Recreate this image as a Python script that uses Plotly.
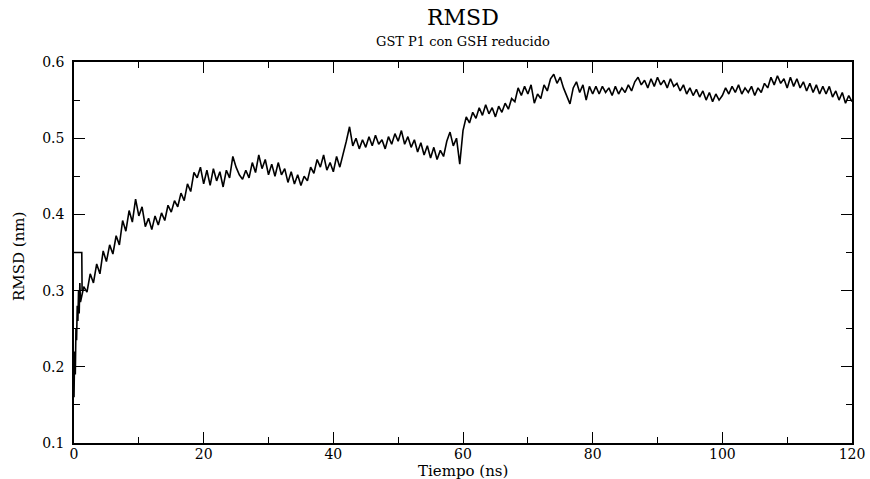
import plotly.graph_objects as go

# Initial plateau segment (separate stretch of the trace at 0.35 nm)
plateau_time = [0.0, 1.2, 1.25]
plateau_rmsd = [0.35, 0.35, 0.30]

# Start of the trajectory (fine sampling)
head_time = [0.0, 0.1, 0.2, 0.3, 0.4, 0.5, 0.6, 0.7, 0.8, 0.9]
head_rmsd = [0.16, 0.22, 0.19, 0.25, 0.235, 0.28, 0.26, 0.30, 0.27, 0.31]

step_ns = 0.5
start_ns = 1.0
rmsd_values = [
    0.285, 0.305, 0.298, 0.322, 0.310, 0.335, 0.322, 0.352, 0.338, 0.360,
    0.348, 0.372, 0.360, 0.392, 0.378, 0.405, 0.390, 0.420, 0.398, 0.410,
    0.384, 0.395, 0.380, 0.398, 0.386, 0.402, 0.392, 0.412, 0.403, 0.418,
    0.410, 0.428, 0.418, 0.440, 0.430, 0.455, 0.448, 0.462, 0.440, 0.458,
    0.438, 0.460, 0.444, 0.456, 0.436, 0.458, 0.448, 0.476, 0.462, 0.452,
    0.446, 0.458, 0.448, 0.468, 0.455, 0.478, 0.460, 0.472, 0.452, 0.466,
    0.450, 0.468, 0.452, 0.460, 0.442, 0.456, 0.440, 0.452, 0.438, 0.450,
    0.444, 0.462, 0.454, 0.472, 0.462, 0.478, 0.458, 0.468, 0.456, 0.476,
    0.462, 0.478, 0.496, 0.515, 0.490, 0.500, 0.486, 0.498, 0.488, 0.502,
    0.490, 0.504, 0.492, 0.498, 0.486, 0.502, 0.492, 0.506, 0.496, 0.510,
    0.492, 0.502, 0.488, 0.498, 0.482, 0.494, 0.478, 0.490, 0.474, 0.488,
    0.472, 0.484, 0.476, 0.496, 0.508, 0.490, 0.500, 0.466, 0.510, 0.528,
    0.520, 0.534, 0.526, 0.540, 0.530, 0.544, 0.532, 0.540, 0.528, 0.542,
    0.534, 0.546, 0.538, 0.552, 0.548, 0.566, 0.556, 0.568, 0.558, 0.570,
    0.546, 0.558, 0.552, 0.570, 0.562, 0.578, 0.584, 0.572, 0.580, 0.566,
    0.556, 0.545, 0.566, 0.574, 0.560, 0.570, 0.550, 0.568, 0.558, 0.568,
    0.558, 0.568, 0.560, 0.566, 0.556, 0.568, 0.558, 0.566, 0.560, 0.570,
    0.562, 0.574, 0.580, 0.570, 0.576, 0.566, 0.578, 0.568, 0.580, 0.570,
    0.576, 0.566, 0.578, 0.568, 0.572, 0.562, 0.570, 0.558, 0.566, 0.556,
    0.564, 0.554, 0.562, 0.550, 0.560, 0.548, 0.558, 0.550, 0.556, 0.566,
    0.558, 0.568, 0.560, 0.570, 0.558, 0.566, 0.560, 0.568, 0.556, 0.566,
    0.560, 0.572, 0.566, 0.580, 0.570, 0.582, 0.572, 0.578, 0.566, 0.580,
    0.568, 0.578, 0.566, 0.574, 0.562, 0.572, 0.560, 0.570, 0.558, 0.568,
    0.558, 0.568, 0.554, 0.562, 0.550, 0.560, 0.546, 0.556, 0.548,
]
grid_time = [start_ns + i * step_ns for i in range(len(rmsd_values))]

x_ticks = [0, 20, 40, 60, 80, 100, 120]
y_ticks = [0.1, 0.2, 0.3, 0.4, 0.5, 0.6]

title_text = "RMSD"
subtitle_text = "GST P1 con GSH reducido"
x_title = "Tiempo (ns)"
y_title = "RMSD (nm)"

time_all = plateau_time + [None] + head_time + grid_time
rmsd_all = plateau_rmsd + [None] + head_rmsd + rmsd_values

FONT = "DejaVu Serif"

fig = go.Figure()
fig.add_trace(go.Scatter(
    x=time_all, y=rmsd_all, mode="lines",
    line=dict(color="black", width=1.6),
    connectgaps=False, showlegend=False, hoverinfo="skip",
))

axis_common = dict(
    showgrid=False, zeroline=False, automargin=False,
    showline=True, linecolor="black", linewidth=1.5, mirror="allticks",
    ticks="inside", ticklen=11, tickwidth=1.2, tickcolor="black",
    tickfont=dict(family=FONT, size=14, color="black"),
)

fig.update_xaxes(
    range=[0, 120], tickvals=x_ticks, ticktext=[str(v) for v in x_ticks],
    minor=dict(ticks="inside", ticklen=6, dtick=10, tickcolor="black", tickwidth=1.2),
    ticklabelstandoff=-3,
    **axis_common,
)
fig.update_yaxes(
    range=[0.1, 0.6], tickvals=y_ticks, ticktext=[f"{v:.1f}" for v in y_ticks],
    minor=dict(ticks="inside", ticklen=6, dtick=0.05, tick0=0.1, tickcolor="black", tickwidth=1.2),
    ticklabelstandoff=5,
    **axis_common,
)

fig.add_annotation(text=title_text, xref="paper", yref="paper", x=0.5, y=1.118,
                   showarrow=False, font=dict(family=FONT, size=22, color="black"),
                   xanchor="center", yanchor="middle")
fig.add_annotation(text=subtitle_text, xref="paper", yref="paper", x=0.5, y=1.0525,
                   showarrow=False, font=dict(family=FONT, size=13, color="black"),
                   xanchor="center", yanchor="middle")
fig.add_annotation(text=x_title, xref="paper", yref="paper", x=0.5, y=-0.0735,
                   showarrow=False, font=dict(family=FONT, size=15, color="black"),
                   xanchor="center", yanchor="middle")
fig.add_annotation(text=y_title, xref="paper", yref="paper", x=-0.0707, y=0.491,
                   showarrow=False, textangle=-90,
                   font=dict(family=FONT, size=15, color="black"),
                   xanchor="center", yanchor="middle")

fig.update_layout(
    width=870, height=479,
    margin=dict(l=74, r=18, t=62, b=36),
    paper_bgcolor="white", plot_bgcolor="white",
)

fig.write_html("out.html")
